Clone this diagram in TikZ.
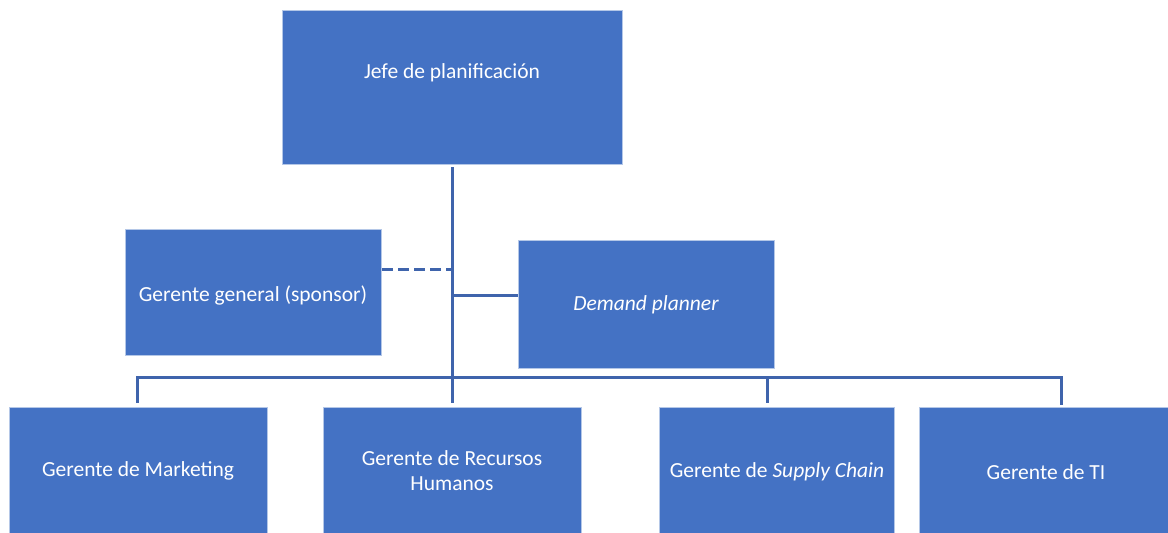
\documentclass[tikz,border=0pt]{standalone}
\usepackage{fontspec}
\setmainfont{Carlito}
\definecolor{boxblue}{HTML}{4472C4}
\definecolor{boxedge}{HTML}{B4C7E7}
\definecolor{linkblue}{HTML}{3F64AC}
\begin{document}
\begin{tikzpicture}[x=1pt,y=-1pt,
  orgbox/.style={fill=boxblue,draw=boxedge,line width=0.6pt},
  lbl/.style={text=white,font=\fontsize{21.5}{25}\selectfont,align=center},
  link/.style={draw=linkblue,line width=3pt},
  dashlink/.style={link,dash pattern=on 11pt off 5pt}]
\useasboundingbox (0,0) rectangle (1168,533);

% boxes
\path[orgbox] (282,10) rectangle (622,164);
\path[orgbox] (125,229) rectangle (381,355);
\path[orgbox] (518,240) rectangle (774,368);
\path[orgbox] (9,407) rectangle (267,540);
\path[orgbox] (323,407) rectangle (581,540);
\path[orgbox] (659,407) rectangle (894,540);
\path[orgbox] (919,407) rectangle (1175,540);

% anchor points for the connectors
\coordinate (jefe) at (452,167);
\coordinate (gg) at (382,269);
\coordinate (dp) at (518,295);
\coordinate (mk) at (137,403);
\coordinate (rh) at (452,403);
\coordinate (sc) at (767,403);
\coordinate (ti) at (1061,405);
\coordinate (busL) at (137,377);
\coordinate (busR) at (1061,377);
\coordinate (tgg) at (452,269);
\coordinate (tdp) at (452,295);

% connectors
\draw[link] (jefe) -- (rh);
\draw[dashlink] (gg) -- (tgg);
\draw[link] (tdp) -- (dp);
\draw[link] (mk) -- (busL) -- (busR) -- (ti);
\draw[link] (sc |- busL) -- (sc);

% labels
\node[lbl] (tjefe) at (452,73) {Jefe de planificación};
\node[lbl] (tgg) at (253,295) {Gerente general (sponsor)};
\node[lbl] (tdp) at (646,305) {\itshape Demand planner};
\node[lbl] (tmk) at (138,471) {Gerente de Marketing};
\node[lbl] (trh) at (452,471) {Gerente de Recursos\\Humanos};
\node[lbl] (tsc) at (777,472) {Gerente de \textit{Supply Chain}};
\node[lbl] (tti) at (1046,472) {Gerente de TI};
\end{tikzpicture}
\end{document}
